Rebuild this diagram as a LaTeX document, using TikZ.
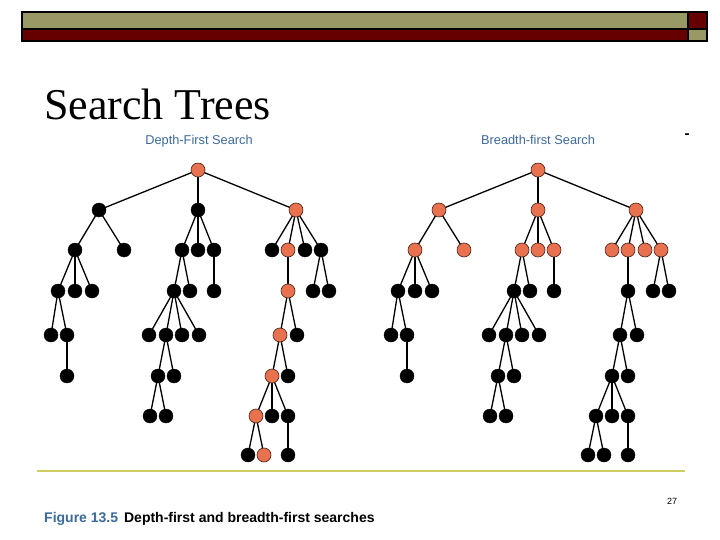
\documentclass[tikz,border=0pt]{standalone}
\usepackage{fontspec}
\setmainfont{Liberation Serif}
\newfontfamily\arialf{Liberation Sans}
\usetikzlibrary{backgrounds}
\definecolor{olive}{HTML}{999966}
\definecolor{darkred}{HTML}{660000}
\definecolor{nodeorange}{HTML}{E8714F}
\definecolor{nodeedge}{HTML}{4A2418}
\definecolor{subblue}{HTML}{3D6A9A}
\definecolor{rulecol}{HTML}{CDCD60}
\tikzset{
  dotb/.style={circle,fill=black,draw=black,line width=0.4pt,minimum size=14pt,inner sep=0pt},
  doto/.style={circle,fill=nodeorange,draw=nodeedge,line width=0.6pt,minimum size=14pt,inner sep=0pt},
  edge/.style={draw=black,line width=1.3pt},
  barbox/.style={draw=black,line width=1.5pt},
  dfsstyles/.style={dA/.style={dotb},dB/.style={dotb},dC/.style={dotb},dD/.style={dotb},pth/.style={doto}},
  bfsstyles/.style={dA/.style={doto},dB/.style={doto},dC/.style={doto},dD/.style={dotb},pth/.style={}},
}
% #1 prefix, #2 x offset, #3 style set
\newcommand{\searchtree}[3]{%
\begin{scope}[xshift=#2,#3]
\node[dA,pth] (#1r) at (198,170) {};
\node[dB] (#1a) at (99,210) {};
\node[dB] (#1b) at (198,210) {};
\node[dB,pth] (#1c) at (296,210) {};
\node[dC] (#1a1) at (75,250) {};
\node[dC] (#1a2) at (124,250) {};
\node[dC] (#1b1) at (182,250) {};
\node[dC] (#1b2) at (198,250) {};
\node[dC] (#1b3) at (214,250) {};
\node[dC] (#1c1) at (272,250) {};
\node[dC,pth] (#1c2) at (288,250) {};
\node[dC] (#1c3) at (305,250) {};
\node[dC] (#1c4) at (321,250) {};
\node[dD] (#1a11) at (58,291) {};
\node[dD] (#1a12) at (75,291) {};
\node[dD] (#1a13) at (92,291) {};
\node[dD] (#1b11) at (174,291) {};
\node[dD] (#1b12) at (190,291) {};
\node[dD] (#1b31) at (214,291) {};
\node[dD,pth] (#1c21) at (288,291) {};
\node[dD] (#1c41) at (313,291) {};
\node[dD] (#1c42) at (329,291) {};
\node[dD] (#1a111) at (51,335) {};
\node[dD] (#1a112) at (67,335) {};
\node[dD] (#1b111) at (149,335) {};
\node[dD] (#1b112) at (166,335) {};
\node[dD] (#1b113) at (182,335) {};
\node[dD] (#1b114) at (199,335) {};
\node[dD,pth] (#1c211) at (280,335) {};
\node[dD] (#1c212) at (297,335) {};
\node[dD] (#1a1121) at (67,376) {};
\node[dD] (#1b1121) at (158,376) {};
\node[dD] (#1b1122) at (174,376) {};
\node[dD,pth] (#1c2111) at (272,376) {};
\node[dD] (#1c2112) at (288,376) {};
\node[dD] (#1b11211) at (150,416) {};
\node[dD] (#1b11212) at (166,416) {};
\node[dD,pth] (#1c21111) at (256,416) {};
\node[dD] (#1c21112) at (272,416) {};
\node[dD] (#1c21113) at (288,416) {};
\node[dD] (#1c211111) at (248,455) {};
\node[dD,pth] (#1c211112) at (264,455) {};
\node[dD] (#1c211131) at (288,455) {};
\begin{scope}[on background layer]
\foreach \p/\c in {r/a,r/b,r/c,a/a1,a/a2,b/b1,b/b2,b/b3,c/c1,c/c2,c/c3,c/c4,
  a1/a11,a1/a12,a1/a13,b1/b11,b1/b12,b3/b31,c2/c21,c4/c41,c4/c42,
  a11/a111,a11/a112,b11/b111,b11/b112,b11/b113,b11/b114,c21/c211,c21/c212,
  a112/a1121,b112/b1121,b112/b1122,c211/c2111,c211/c2112,
  b1121/b11211,b1121/b11212,c2111/c21111,c2111/c21112,c2111/c21113,
  c21111/c211111,c21111/c211112,c21113/c211131}
  \draw[edge] (#1\p.center) -- (#1\c.center);
\end{scope}
\end{scope}}
\begin{document}
\begin{tikzpicture}[x=1pt,y=-1pt]
\useasboundingbox (0,0) rectangle (720,540);
\begin{scope}[on background layer]
\fill[white] (0,0) rectangle (720,540);
\end{scope}
% top bar
\fill[olive] (22,12) rectangle (688,29);
\fill[darkred] (688,12) rectangle (707,29);
\fill[darkred] (22,29) rectangle (688,41);
\fill[olive] (688,29) rectangle (707,41);
\draw[barbox] (22,12) rectangle (707,41);
\draw[barbox] (22,29) -- (707,29);
\draw[barbox] (688,12) -- (688,41);
% title
\node[anchor=base west,inner sep=0pt,font=\fontsize{44}{48}\selectfont] (title) at (44,120) {Search Trees};
\node[anchor=center,inner sep=0pt,font=\arialf\bfseries\fontsize{15}{16}\selectfont] (dash) at (687,136) {-};
% subtitles
\node[anchor=base,inner sep=0pt,text=subblue,font=\arialf\fontsize{12.8}{14}\selectfont] (dfs) at (199,145) {Depth-First Search};
\node[anchor=base,inner sep=0pt,text=subblue,font=\arialf\fontsize{12.8}{14}\selectfont] (bfs) at (538,145) {Breadth-first Search};
% trees
\searchtree{L}{0pt}{dfsstyles}
\searchtree{R}{340pt}{bfsstyles}
% rule
\draw[rulecol,line width=1.1pt] (37,471) -- (685,471);
% page number and caption
\node[anchor=base,inner sep=0pt,font=\arialf\fontsize{9}{10}\selectfont] (pg) at (672,504) {27};
\node[anchor=base west,inner sep=0pt,font=\arialf\bfseries\fontsize{14}{16}\selectfont] (cap) at (44,522) {\textcolor{subblue}{Figure 13.5}\hspace{6pt}Depth-first and breadth-first searches};
\end{tikzpicture}
\end{document}
